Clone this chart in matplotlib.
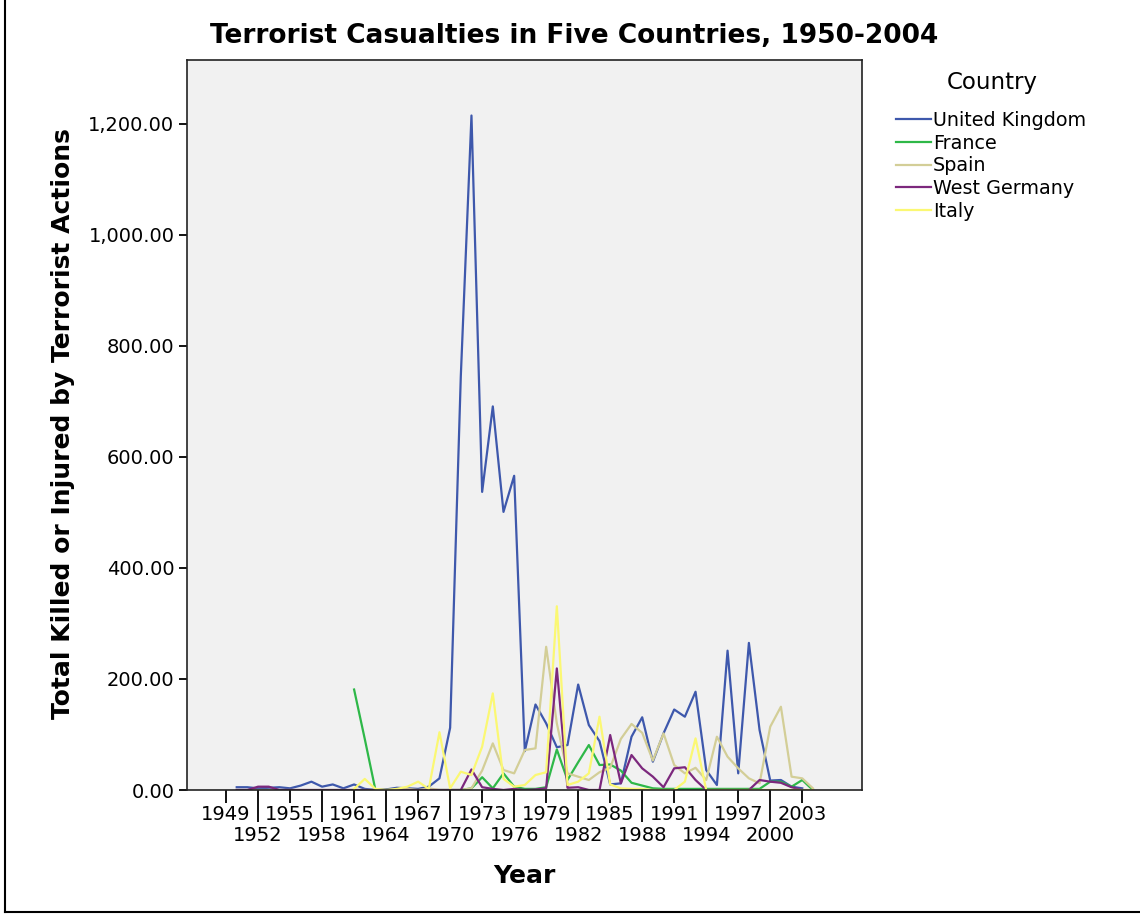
import matplotlib as mpl
mpl.use('Agg')
import matplotlib.pyplot as plt
from matplotlib.lines import Line2D

from numpy import nan


years = list(range(1950, 2005))

uk = [5, 5, 3, 4, 5, 3, 8, 15, 6, 10,
      3, 10, 2, 0, 1, 4, 3, 2, 6, 21,
      112, 745, 1215, 537, 691, 501, 566, 70, 154, 120,
      77, 81, 190, 117, 88, 10, 12, 96, 131, 51,
      102, 145, 132, 177, 36, 9, 251, 30, 265, 108,
      17, 18, 6, 3, nan]

france = [nan, nan, nan, nan, nan, nan, nan, nan, nan, nan,
          nan, 181, 92, 0, 0, 0, 0, 0, 0, 0,
          0, 0, 3, 23, 3, 30, 6, 2, 2, 5,
          73, 18, 50, 81, 45, 46, 35, 13, 8, 3,
          2, 2, 2, 2, 2, 2, 2, 2, 2, 2,
          15, 15, 6, 18, 0]

spain = [0, 0, 0, 0, 0, 0, 0, 0, 0, 0,
         0, 0, 0, 0, 0, 0, 2, 0, 3, 0,
         0, 0, 3, 35, 84, 36, 30, 72, 75, 258,
         120, 30, 24, 18, 32, 40, 92, 119, 103, 53,
         102, 45, 30, 40, 18, 96, 60, 39, 21, 12,
         114, 150, 24, 21, 3]

west_germany = [0, 0, 6, 6, 0, 0, 0, 0, 0, 0,
                0, 0, 0, 0, 0, 0, 0, 0, 0, 0,
                0, 0, 37, 5, 2, 0, 2, 0, 1, 3,
                219, 4, 5, 0, 0, 99, 12, 63, 39, 24,
                5, 39, 41, 18, 0, 0, 0, 0, 0, 18,
                15, 13, 5, 0, nan]

italy = [nan, nan, nan, nan, nan, nan, nan, nan, nan, nan,
         nan, 2, 20, 2, 0, 2, 6, 15, 2, 104,
         3, 33, 27, 78, 174, 20, 6, 9, 27, 32,
         331, 9, 15, 30, 132, 10, 3, 2, 2, 0,
         0, 0, 15, 93, 0, 0, 0, 0, 0, 0,
         0, 0, 0, 0, 0]

series = [('United Kingdom', uk, '#3E58AC'),
          ('France', france, '#2EB848'),
          ('Spain', spain, '#D3CE97'),
          ('West Germany', west_germany, '#7C287D'),
          ('Italy', italy, '#FBF873')]

row1_ticks = [1949, 1955, 1961, 1967, 1973, 1979, 1985, 1991, 1997, 2003]
row2_ticks = [1952, 1958, 1964, 1970, 1976, 1982, 1988, 1994, 2000]
y_ticks = [0, 200, 400, 600, 800, 1000, 1200]

##########

fig = plt.figure(figsize=(11.4, 9.14), dpi=100)
ax = fig.add_axes([187 / 1140, 124 / 914, 675 / 1140, 730 / 914])
ax.set_facecolor('#F1F1F1')

for name, values, color in series:
    ax.plot(years, values, color=color, lw=1.6, label=name)

ax.set_xlim(1945.34, 2008.6)
ax.set_ylim(0, 1315)

ax.set_yticks(y_ticks)
ax.set_yticklabels(['{:,.2f}'.format(v) for v in y_ticks])
ax.tick_params(axis='y', length=6, width=1.3, pad=3, labelsize=14)

ax.set_xticks(row1_ticks)
ax.set_xticklabels([str(y) for y in row1_ticks])
ax.set_xticks(row2_ticks, minor=True)
ax.set_xticklabels([str(y) for y in row2_ticks], minor=True)
ax.tick_params(axis='x', which='major', length=9, width=1.3, pad=1.5, labelsize=14)
ax.tick_params(axis='x', which='minor', length=23, width=1.3, pad=3, labelsize=14)

for spine in ax.spines.values():
    spine.set_linewidth(1.2)
    spine.set_color('#222222')

fig.text(574 / 1140, 1 - 36 / 914, 'Terrorist Casualties in Five Countries, 1950-2004',
         ha='center', va='center', fontsize=19, fontweight='bold')
fig.text(63 / 1140, 1 - 424 / 914, 'Total Killed or Injured by Terrorist Actions',
         ha='center', va='center', rotation=90, fontsize=18, fontweight='bold')
fig.text(524 / 1140, 1 - 876 / 914, 'Year',
         ha='center', va='center', fontsize=18, fontweight='bold')

# legend title drawn on its own so the gap above the entries can be set
fig.text(992 / 1140, 1 - 83 / 914, 'Country', ha='center', va='center', fontsize=16.5)
ax.legend(loc='upper left', bbox_to_anchor=(896 / 1140, 1 - 111 / 914),
          bbox_transform=fig.transFigure, frameon=False,
          fontsize=13.8, handlelength=1.8, handletextpad=0.12,
          labelspacing=0.19, borderpad=0, borderaxespad=0)

# frame lines down the left and along the bottom of the canvas
fig.add_artist(Line2D([5 / 1140, 5 / 1140], [2 / 914, 1], color='black', lw=1.5,
                      transform=fig.transFigure))
fig.add_artist(Line2D([5 / 1140, 1], [2 / 914, 2 / 914], color='black', lw=1.5,
                      transform=fig.transFigure))

fig.savefig('out.png', dpi=100)
